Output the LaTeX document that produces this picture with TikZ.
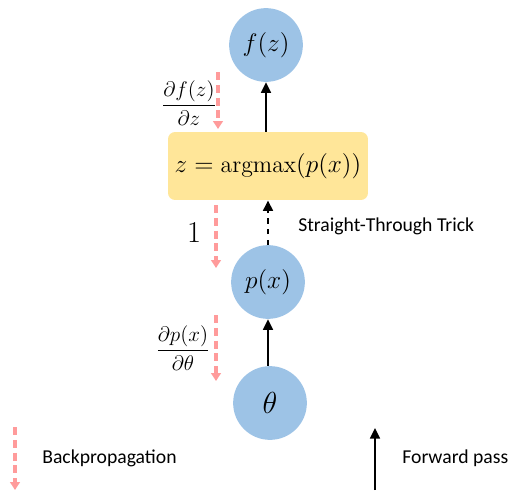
\documentclass[tikz,border=0pt]{standalone}
\usepackage{amsmath, amssymb}
\usepackage{fontspec}
\newfontfamily\calib{Carlito}
\usetikzlibrary{arrows.meta, positioning, calc}
\definecolor{nodeblue}{RGB}{157,195,230}
\definecolor{boxyellow}{RGB}{255,230,153}
\definecolor{backpink}{RGB}{255,155,155}
\tikzset{
    var/.style={circle, fill=nodeblue, minimum size=1.475cm, inner sep=0pt, font=\fontsize{13.5}{16}\selectfont},
    op/.style={rectangle, rounded corners=4pt, fill=boxyellow, minimum width=4cm, minimum height=1.36cm, font=\fontsize{13.5}{16}\selectfont},
    fwd/.style={-{Triangle[length=6pt, width=5.5pt]}, line width=1.4pt, black},
    bwd/.style={-{Triangle[length=4.5pt, width=5.5pt]}, line width=2pt, backpink, dash pattern=on 4.5pt off 2.8pt},
    grad/.style={font=\fontsize{13}{15}\selectfont},
    txt/.style={inner sep=0pt, font=\calib\fontsize{11.2}{13}\selectfont}
}
\begin{document}
\begin{tikzpicture}[x=0.02cm, y=-0.02cm]
    \useasboundingbox (0,0) rectangle (510,490);
    % main chain
    \node[var, font=\fontsize{17}{20}\selectfont] (theta) at (270,403) {$\theta$};
    \node[var, font=\fontsize{14}{16}\selectfont] (px) at (268,282) {$p(x)$};
    \node[op] (am) at (268,166) {$z=\operatorname{argmax}(p(x))$};
    \node[var] (fz) at (266,45) {$f(z)$};
    \draw[fwd] (theta.north -| px) -- (px);
    \draw[fwd, dashed] (px) -- (am);
    \draw[fwd] (am.north -| fz) -- (fz);
    \node[txt, anchor=west] (st) at (298,226) {Straight-Through Trick};
    % gradients
    \coordinate (g1a) at (218,72);  \coordinate (g1b) at (218,129);
    \coordinate (g2a) at (216,205); \coordinate (g2b) at (216,268);
    \coordinate (g3a) at (216,315); \coordinate (g3b) at (216,381);
    \draw[bwd] (g1a) -- (g1b);
    \draw[bwd] (g2a) -- (g2b);
    \draw[bwd] (g3a) -- (g3b);
    \node[grad] (d1) at (189,103) {$\dfrac{\partial f(z)}{\partial z}$};
    \node[grad, font=\fontsize{17}{20}\selectfont] (d2) at (194,233) {$1$};
    \node[grad] (d3) at (183,348) {$\dfrac{\partial p(x)}{\partial \theta}$};
    % legend
    \coordinate (lb1) at (15,427); \coordinate (lb2) at (15,490);
    \draw[bwd] (lb1) -- (lb2);
    \node[txt, anchor=west] (lbt) at (42,458) {Backpropagation};
    \coordinate (lf1) at (375,490); \coordinate (lf2) at (375,428);
    \draw[fwd] (lf1) -- (lf2);
    \node[txt, anchor=west] (lft) at (402,458) {Forward pass};
\end{tikzpicture}
\end{document}
